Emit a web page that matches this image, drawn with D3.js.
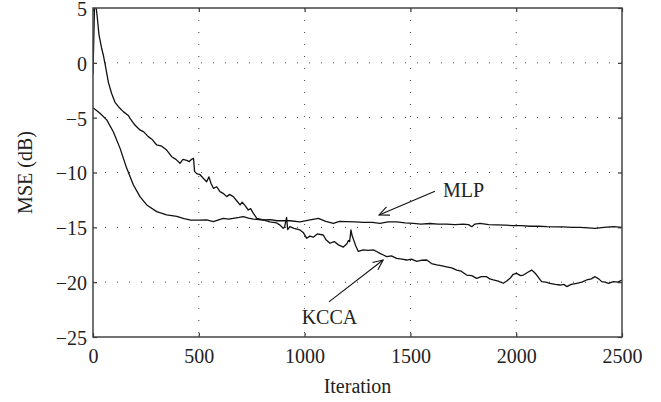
<!DOCTYPE html>
<html>
<head>
<meta charset="utf-8">
<script src="https://cdn.jsdelivr.net/npm/d3@7"></script>
<style>
    body { margin: 0; background: #fff; }
    svg { display: block; font-family: "Liberation Serif", "DejaVu Serif", serif; }
</style>
</head>
<body>
<div id="graphDiv"></div>
<script>
// axis ticks
const xTicks = [0, 500, 1000, 1500, 2000, 2500];
const yTicks = [-25, -20, -15, -10, -5, 0, 5];

// KCCA curve (iteration, MSE in dB)
const kccaIter = [0, 8, 14, 20, 28, 40, 50, 58, 73, 88, 104, 125, 143, 167, 175, 198, 222, 240, 261, 280,
    301, 325, 348, 372, 392, 411, 425, 443, 455, 466, 475, 480, 490, 506, 520, 537, 548, 558, 569, 585,
    600, 615, 632, 645, 663, 680, 695, 705, 718, 734, 745, 758, 774, 800, 836, 868, 884, 899, 905, 915,
    920, 931, 950, 978, 995, 1010, 1025, 1041, 1060, 1088, 1100, 1120, 1140, 1160, 1183, 1200, 1207, 1213, 1219, 1225,
    1230, 1242, 1254, 1277, 1300, 1325, 1340, 1356, 1370, 1388, 1410, 1435, 1460, 1483, 1505, 1530, 1555, 1577, 1600, 1624,
    1645, 1671, 1695, 1719, 1740, 1766, 1790, 1813, 1835, 1860, 1875, 1892, 1915, 1939, 1955, 1971, 1985, 2002, 2020, 2034,
    2055, 2073, 2085, 2097, 2110, 2120, 2140, 2160, 2185, 2207, 2225, 2239, 2260, 2286, 2310, 2333, 2355, 2373, 2390, 2404,
    2420, 2436, 2459, 2480, 2500];
const kccaMse = [-1, 5.8, 5.2, 4.2, 2.6, 1.4, 0.6, -0.2, -1.8, -2.8, -3.6, -4.1, -4.45, -4.8, -5.06, -5.67, -6.12, -6.3, -6.73, -7.0,
    -7.49, -7.6, -7.95, -8.56, -8.8, -9.16, -8.8, -8.9, -9.0, -8.8, -8.7, -9.9, -10.1, -10.2, -10.5, -10.84, -10.4, -11.0, -11.44, -11.3,
    -11.75, -11.9, -12.2, -12.0, -12.2, -12.6, -12.96, -12.7, -13.0, -13.42, -13.3, -13.72, -14.18, -14.3, -14.5, -14.6, -14.8, -15.09, -15.0, -14.1,
    -15.2, -14.94, -15.1, -15.24, -15.5, -16.0, -15.8, -15.9, -15.6, -15.7, -16.1, -16.45, -16.3, -16.6, -16.8, -16.5, -16.2, -16.3, -15.24, -15.8,
    -16.05, -16.7, -17.2, -17.05, -17.1, -17.05, -17.2, -17.37, -17.5, -17.67, -17.6, -17.83, -17.9, -17.98, -17.9, -18.1, -18.0, -17.98, -18.3, -18.43,
    -18.5, -18.6, -18.7, -18.9, -19.0, -19.35, -19.4, -19.65, -19.5, -19.5, -19.7, -19.8, -19.9, -20.1, -19.9, -19.65, -19.3, -19.2, -19.4, -19.35,
    -19.1, -18.9, -19.1, -19.35, -19.7, -19.95, -20.0, -20.1, -20.2, -20.26, -20.2, -20.4, -20.2, -20.1, -20.0, -19.8, -19.7, -19.5, -19.7, -19.95,
    -20.0, -20.1, -19.95, -20.0, -19.8];

// MLP curve (iteration, MSE in dB)
const mlpIter = [0, 33, 65, 96, 128, 159, 191, 222, 254, 301, 348, 396, 430, 458, 500, 537, 569, 590, 616, 640,
    663, 690, 710, 735, 758, 805, 840, 868, 884, 931, 978, 1020, 1065, 1100, 1136, 1165, 1199, 1240, 1277, 1320,
    1356, 1395, 1435, 1475, 1514, 1550, 1593, 1630, 1671, 1710, 1750, 1775, 1790, 1805, 1829, 1870, 1908, 1950, 1986, 2025,
    2065, 2105, 2144, 2185, 2223, 2262, 2302, 2340, 2373, 2415, 2459, 2500];
const mlpMse = [-4.1, -4.6, -5.2, -6.28, -7.8, -9.6, -11.14, -12.2, -12.96, -13.57, -13.87, -14.0, -14.2, -14.33, -14.35, -14.33, -14.48, -14.35, -14.18, -14.25,
    -14.18, -14.1, -14.03, -14.15, -14.25, -14.33, -14.3, -14.4, -14.39, -14.4, -14.5, -14.35, -14.18, -14.45, -14.63, -14.45, -14.48, -14.5, -14.55, -14.55,
    -14.63, -14.5, -14.5, -14.6, -14.63, -14.7, -14.65, -14.7, -14.7, -14.75, -14.7, -14.75, -14.94, -14.7, -14.63, -14.75, -14.78, -14.8, -14.85, -14.85,
    -14.9, -14.9, -14.94, -14.95, -14.95, -15.0, -15.0, -15.05, -15.1, -15.0, -14.94, -15.0];

// annotations, in data units: label position, arrow start and arrow tip
const annLabels = ["MLP", "KCCA"];
const annText = [[1654, -12.25], [986, -23.8]];
const annFrom = [[1616, -11.7], [1115, -21.8]];
const annTo = [[1352, -13.87], [1371, -17.98]];

const W = 661, H = 402;
const margin = {top: 8, right: 39, bottom: 65, left: 93};
const width = W - margin.left - margin.right;
const height = H - margin.top - margin.bottom;

const svg = d3.select("#graphDiv")
    .append("svg")
    .attr("width", W)
    .attr("height", H);

const g = svg.append("g")
    .attr("transform", `translate(${margin.left},${margin.top})`);

const x = d3.scaleLinear().domain([0, 2500]).range([0, width]);
const y = d3.scaleLinear().domain([-25, 5]).range([height, 0]);

//dotted grid
g.append("g")
    .selectAll("line")
    .data(xTicks.slice(1, -1))
    .join("line")
    .attr("x1", d => x(d)).attr("x2", d => x(d))
    .attr("y1", 0).attr("y2", height)
    .attr("stroke", "#444")
    .attr("stroke-width", 1)
    .attr("stroke-dasharray", "1,11");
g.append("g")
    .selectAll("line")
    .data(yTicks.slice(1, -1))
    .join("line")
    .attr("x1", 0).attr("x2", width)
    .attr("y1", d => y(d)).attr("y2", d => y(d))
    .attr("stroke", "#444")
    .attr("stroke-width", 1)
    .attr("stroke-dasharray", "1,11");

//clip the curves to the plot box
svg.append("defs").append("clipPath")
    .attr("id", "plotClip")
    .append("rect")
    .attr("width", width)
    .attr("height", height);

const line = d3.line()
    .x(d => x(d[0]))
    .y(d => y(d[1]));

const curves = [d3.zip(kccaIter, kccaMse), d3.zip(mlpIter, mlpMse)];
g.append("g")
    .attr("clip-path", "url(#plotClip)")
    .selectAll("path")
    .data(curves)
    .join("path")
    .attr("d", line)
    .attr("fill", "none")
    .attr("stroke", "#111")
    .attr("stroke-width", 1.3)
    .attr("stroke-linejoin", "round");

//axes, ticks pointing inward on all four sides
const tickStyle = sel => {
    sel.select(".domain").remove();
    sel.selectAll(".tick line").attr("stroke", "#333").attr("stroke-width", 1.2);
    sel.selectAll("text")
        .attr("font-family", "Liberation Serif, serif")
        .attr("font-size", 20)
        .attr("fill", "#222");
};

g.append("g")
    .attr("transform", `translate(0,${height})`)
    .call(d3.axisBottom(x).tickValues(xTicks).tickSize(-4).tickPadding(12).tickFormat(d3.format("d")))
    .call(tickStyle);
g.append("g")
    .call(d3.axisTop(x).tickValues(xTicks).tickSize(-4).tickFormat(""))
    .call(tickStyle);
g.append("g")
    .call(d3.axisLeft(y).tickValues(yTicks).tickSize(-4).tickPadding(6)
        .tickFormat(d => d < 0 ? "\u2212" + Math.abs(d) : d))
    .call(tickStyle)
    .call(sel => sel.selectAll("text").attr("dy", "0.37em"));
g.append("g")
    .attr("transform", `translate(${width},0)`)
    .call(d3.axisRight(y).tickValues(yTicks).tickSize(-4).tickFormat(""))
    .call(tickStyle);

//frame
g.append("rect")
    .attr("width", width)
    .attr("height", height)
    .attr("fill", "none")
    .attr("stroke", "#444")
    .attr("stroke-width", 1.5);

//axis titles
svg.append("text")
    .attr("x", margin.left + width / 2)
    .attr("y", 393)
    .attr("text-anchor", "middle")
    .attr("font-size", 20)
    .attr("fill", "#222")
    .text("Iteration");
svg.append("text")
    .attr("transform", `translate(32,${margin.top + height / 2}) rotate(-90)`)
    .attr("text-anchor", "middle")
    .attr("font-size", 20)
    .attr("fill", "#222")
    .text("MSE (dB)");

//arrow annotations
svg.select("defs").append("marker")
    .attr("id", "arrowHead")
    .attr("viewBox", "0 0 12 12")
    .attr("refX", 11)
    .attr("refY", 6)
    .attr("markerWidth", 12)
    .attr("markerHeight", 12)
    .attr("markerUnits", "userSpaceOnUse")
    .attr("orient", "auto")
    .append("path")
    .attr("d", "M1,1.5 L11,6 L1,10.5")
    .attr("fill", "none")
    .attr("stroke", "#111")
    .attr("stroke-width", 1.1);

g.append("g")
    .selectAll("line")
    .data(annFrom)
    .join("line")
    .attr("x1", d => x(d[0])).attr("y1", d => y(d[1]))
    .attr("x2", (d, i) => x(annTo[i][0])).attr("y2", (d, i) => y(annTo[i][1]))
    .attr("stroke", "#111")
    .attr("stroke-width", 1.1)
    .attr("marker-end", "url(#arrowHead)");

g.append("g")
    .selectAll("text")
    .data(annLabels)
    .join("text")
    .attr("x", (d, i) => x(annText[i][0]))
    .attr("y", (d, i) => y(annText[i][1]))
    .attr("font-size", 20)
    .attr("fill", "#222")
    .text(d => d);
</script>
</body>
</html>
